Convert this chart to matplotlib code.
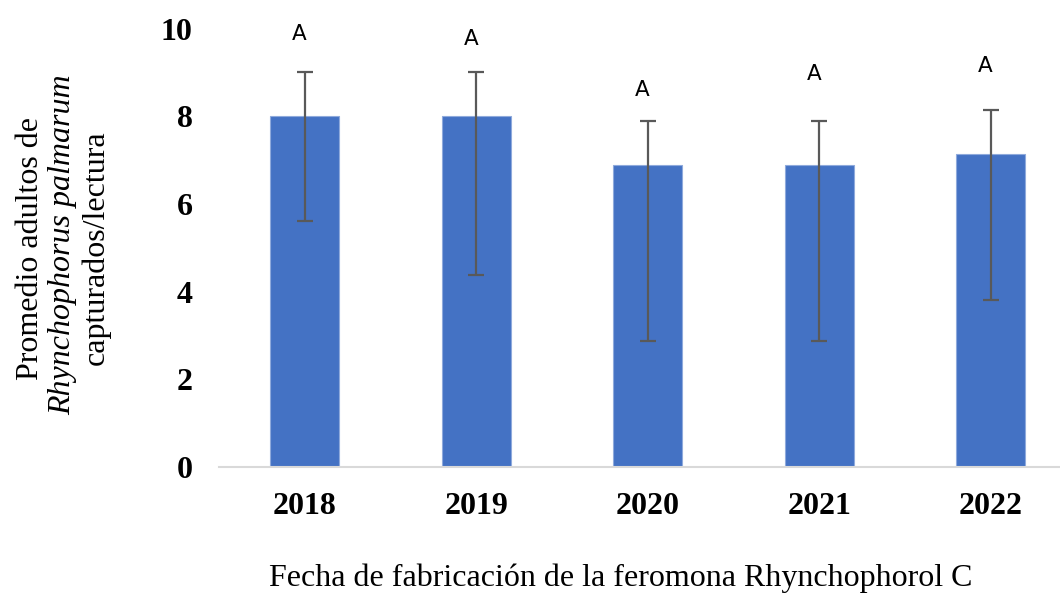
import numpy as np
import matplotlib.pyplot as plt

years = ['2018', '2019', '2020', '2021', '2022']
means = [8.0, 8.0, 6.88, 6.88, 7.13]
err_up = [1.01, 1.01, 1.01, 1.01, 1.01]
err_low = [2.39, 3.63, 4.0, 4.0, 3.33]
letters = ['A', 'A', 'A', 'A', 'A']
letter_y = [9.89, 9.76, 8.59, 8.97, 9.16]

serif = ['Liberation Serif', 'DejaVu Serif']

fig = plt.figure(figsize=(10.6, 5.94), dpi=100)
ax = fig.add_axes([0.2066, 0.2138, 0.7934, 0.7379])

x = np.arange(len(years))
ax.bar(x, means, width=0.4, color='#4472C4', edgecolor='#8FAADC', linewidth=0.8)
ax.errorbar(x, means, yerr=[err_low, err_up], fmt='none', ecolor='#595959',
            elinewidth=1.6, capsize=6, capthick=1.6)

for xi, yi, t in zip(x, letter_y, letters):
    ax.text(xi - 0.03, yi, t, ha='center', va='center', fontsize=15.5,
            family='DejaVu Sans', color='black')

ax.set_xlim(-0.5, 4.404)
ax.set_ylim(0, 10)
ax.set_xticks(x)
ax.set_xticklabels(years, family=serif, fontsize=23, fontweight='bold')
ax.set_yticks([0, 2, 4, 6, 8, 10])
ax.set_yticklabels(['0', '2', '4', '6', '8', '10'], family=serif, fontsize=23, fontweight='bold')
ax.tick_params(axis='both', length=0)
ax.tick_params(axis='x', pad=18)
ax.tick_params(axis='y', pad=19)
for s in ['top', 'right', 'left']:
    ax.spines[s].set_visible(False)
ax.spines['bottom'].set_color('#D9D9D9')
ax.spines['bottom'].set_linewidth(1.5)

fig.text(621 / 1060, 1 - 578 / 594, 'Fecha de fabricación de la feromona Rhynchophorol C',
         ha='center', va='center', fontsize=23, family=serif)

fig.text(31 / 1060, 1 - 249 / 594, 'Promedio adultos de', rotation=90,
         ha='center', va='center', fontsize=23, family=serif)
fig.text(63 / 1060, 1 - 245 / 594, 'Rhynchophorus palmarum', rotation=90,
         ha='center', va='center', fontsize=23, family=serif, style='italic')
fig.text(96 / 1060, 1 - 248 / 594, 'capturados/lectura', rotation=90,
         ha='center', va='center', fontsize=23, family=serif)

fig.savefig('out.png', dpi=100)
